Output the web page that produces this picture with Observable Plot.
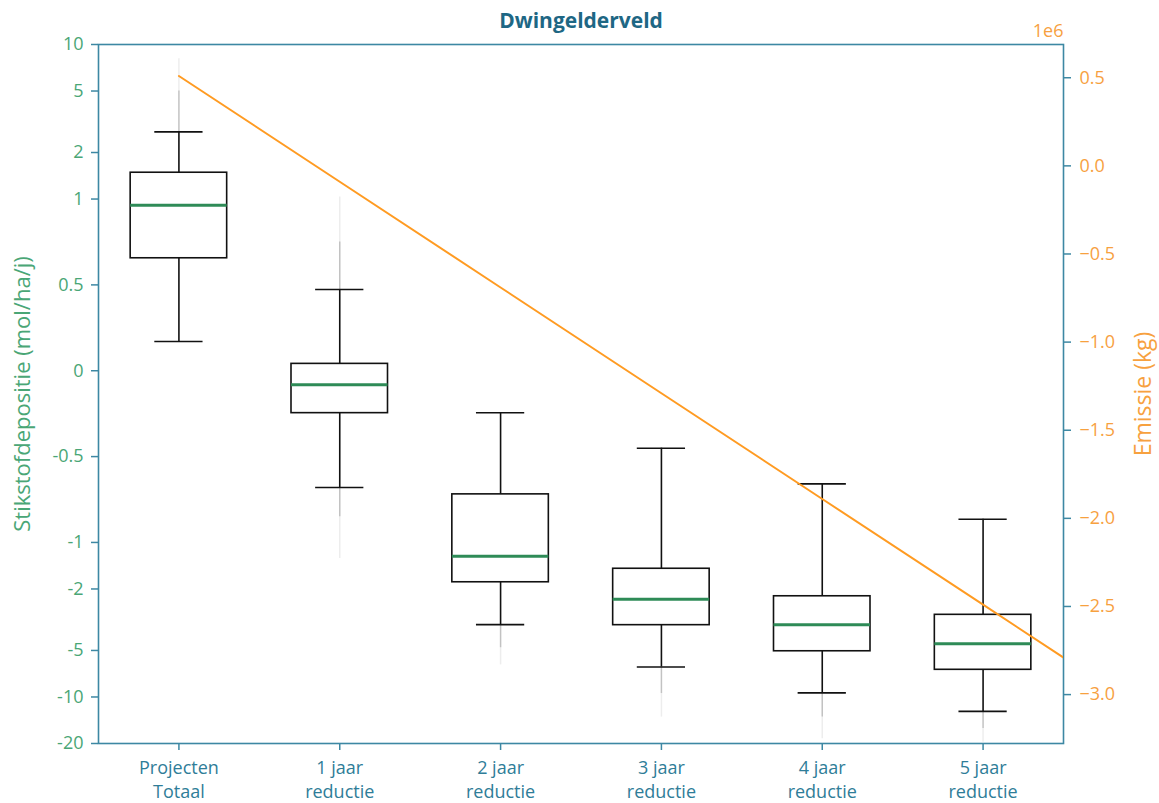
<!DOCTYPE html>
<html>
<head>
<meta charset="utf-8">
<script src="https://cdn.jsdelivr.net/npm/d3@7"></script>
<script src="https://cdn.jsdelivr.net/npm/@observablehq/plot@0.6"></script>
<style>
  html, body { margin: 0; padding: 0; background: white; }
  #wrap { position: relative; width: 1159px; height: 803px; }
  #wrap svg { position: absolute; left: 0; top: 0; }
</style>
</head>
<body>
<div id="wrap"></div>
<script>
// ---- data ----
const categories = ["Projecten\nTotaal", "1 jaar\nreductie", "2 jaar\nreductie", "3 jaar\nreductie", "4 jaar\nreductie", "5 jaar\nreductie"];
const position = [1, 2, 3, 4, 5, 6];
const whiskerLow = [0.17, -0.68, -3.4, -6.4, -9.4, -12.4];
const q1 = [0.655, -0.247, -1.81, -3.43, -5.06, -6.67];
const median = [0.964, -0.082, -1.23, -2.33, -3.41, -4.53];
const q3 = [1.48, 0.04, -0.72, -1.48, -2.23, -2.94];
const whiskerHigh = [2.72, 0.473, -0.245, -0.451, -0.659, -0.865];
// outlier streaks (dense part, faint far end); null = none
const outHighNear = [5.0, 0.75, null, null, null, null];
const outHighFar = [8.1, 1.03, null, null, null, null];
const outLowNear = [null, -0.85, -4.8, -9.5, -13.5, -16];
const outLowFar = [null, -1.27, -6.2, -13.5, -18.6, -19.6];

const yTickValues = [10, 5, 2, 1, 0.5, 0, -0.5, -1, -2, -5, -10, -20];
const yTickLabels = ["10", "5", "2", "1", "0.5", "0", "-0.5", "-1", "-2", "-5", "-10", "-20"];

const emissionX = [1, 2, 3, 4, 5, 6, 7];
const emission = [0.51e6, -0.09e6, -0.69e6, -1.29e6, -1.89e6, -2.49e6, -3.09e6];
const emissionTicks = [0.5e6, 0, -0.5e6, -1.0e6, -1.5e6, -2.0e6, -2.5e6, -3.0e6];
const emissionDomain = [-3.2775e6, 0.6886e6];

// ---- styling ----
const spine = "#3d88a3";
const green = "#4aa676";
const teal = "#2f7d98";
const titleColor = "#1e6784";
const orange = "#ff9b22";
const orangeText = "#f7a13f";
const medianColor = "#2e8b57";
const font = "'Open Sans', 'Noto Sans', sans-serif";

// matplotlib symlog (base 10, linthresh 1, linscale 1)
const LS = 1 / (1 - 1 / 10);
const T = v => Math.abs(v) <= 1 ? v * LS : Math.sign(v) * (LS + Math.log10(Math.abs(v)));

const boxW = 0.3, capW = 0.15;
const rows = position.map((p, i) => ({
  x: p, wl: whiskerLow[i], q1: q1[i], med: median[i], q3: q3[i], wh: whiskerHigh[i],
  hn: outHighNear[i], hf: outHighFar[i], ln: outLowNear[i], lf: outLowFar[i]
}));
const tickLabelMap = new Map(yTickValues.map((v, i) => [T(v), yTickLabels[i]]));

const margins = {marginTop: 44, marginBottom: 60, marginLeft: 98, marginRight: 96};

const main = Plot.plot({
  width: 1159, height: 803, ...margins,
  style: {fontFamily: font, background: "white", overflow: "visible"},
  x: {type: "linear", domain: [0.5, 6.5], axis: null},
  y: {type: "linear", domain: [T(-20), T(10)], axis: null},
  marks: [
    // outlier streaks
    Plot.ruleX(rows.filter(d => d.hf != null), {x: "x", y1: d => T(d.wh), y2: d => T(d.hf), stroke: "#000", strokeOpacity: 0.07, strokeWidth: 1.5}),
    Plot.ruleX(rows.filter(d => d.hn != null), {x: "x", y1: d => T(d.wh), y2: d => T(d.hn), stroke: "#000", strokeOpacity: 0.18, strokeWidth: 1.5}),
    Plot.ruleX(rows.filter(d => d.lf != null), {x: "x", y1: d => T(d.wl), y2: d => T(d.lf), stroke: "#000", strokeOpacity: 0.07, strokeWidth: 1.5}),
    Plot.ruleX(rows.filter(d => d.ln != null), {x: "x", y1: d => T(d.wl), y2: d => T(d.ln), stroke: "#000", strokeOpacity: 0.18, strokeWidth: 1.5}),
    // whiskers
    Plot.ruleX(rows, {x: "x", y1: d => T(d.wl), y2: d => T(d.q1), stroke: "#111", strokeWidth: 1.6}),
    Plot.ruleX(rows, {x: "x", y1: d => T(d.q3), y2: d => T(d.wh), stroke: "#111", strokeWidth: 1.6}),
    // caps
    Plot.ruleY(rows, {y: d => T(d.wl), x1: d => d.x - capW, x2: d => d.x + capW, stroke: "#111", strokeWidth: 1.6}),
    Plot.ruleY(rows, {y: d => T(d.wh), x1: d => d.x - capW, x2: d => d.x + capW, stroke: "#111", strokeWidth: 1.6}),
    // boxes
    Plot.rect(rows, {x1: d => d.x - boxW, x2: d => d.x + boxW, y1: d => T(d.q1), y2: d => T(d.q3), fill: "none", stroke: "#111", strokeWidth: 1.6}),
    // medians
    Plot.ruleY(rows, {y: d => T(d.med), x1: d => d.x - boxW, x2: d => d.x + boxW, stroke: medianColor, strokeWidth: 3}),
    // axes
    Plot.axisY(yTickValues.map(T), {anchor: "left", tickFormat: d => tickLabelMap.get(d), tickSize: 7, tickPadding: 8,
      stroke: spine, strokeWidth: 1.5, fill: green, fontSize: 18, label: null}),
    Plot.axisX(position, {anchor: "bottom", tickFormat: d => categories[d - 1], tickSize: 7, tickPadding: 7,
      stroke: spine, strokeWidth: 1.5, fill: teal, fontSize: 18, lineHeight: 1.3, label: null}),
    Plot.frame({stroke: spine, strokeWidth: 1.6}),
    // title and y label
    Plot.text(["Dwingelderveld"], {text: d => d, frameAnchor: "top", lineAnchor: "middle", textAnchor: "middle", dy: -23, fontSize: 21, fontWeight: "bold", fill: titleColor}),
    Plot.text(["Stikstofdepositie (mol/ha/j)"], {text: d => d, frameAnchor: "left", textAnchor: "middle", lineAnchor: "middle", dx: -76, rotate: -90, fontSize: 22, fill: green})
  ]
});

const emissionRows = emissionX.map((x, i) => ({x, e: emission[i]}));
const fmtE = d => (d / 1e6).toFixed(1).replace("-", "\u2212");

const overlay = Plot.plot({
  width: 1159, height: 803, ...margins,
  style: {fontFamily: font, background: "transparent", overflow: "visible"},
  x: {type: "linear", domain: [0.5, 6.5], axis: null},
  y: {type: "linear", domain: emissionDomain, axis: null},
  marks: [
    Plot.line(emissionRows, {x: "x", y: "e", stroke: orange, strokeWidth: 2, clip: true}),
    Plot.axisY(emissionTicks, {anchor: "right", tickFormat: fmtE, tickSize: 7, tickPadding: 9,
      stroke: spine, strokeWidth: 1.5, fill: orangeText, fontSize: 18, label: null}),
    Plot.text(["1e6"], {text: d => d, frameAnchor: "top-right", textAnchor: "end", lineAnchor: "middle", dy: -13, fontSize: 18, fill: orangeText}),
    Plot.text(["Emissie (kg)"], {text: d => d, frameAnchor: "right", textAnchor: "middle", lineAnchor: "middle", dx: 80, rotate: -90, fontSize: 23, fill: orangeText})
  ]
});

const wrap = document.getElementById("wrap");
wrap.appendChild(main);
wrap.appendChild(overlay);
</script>
</body>
</html>
